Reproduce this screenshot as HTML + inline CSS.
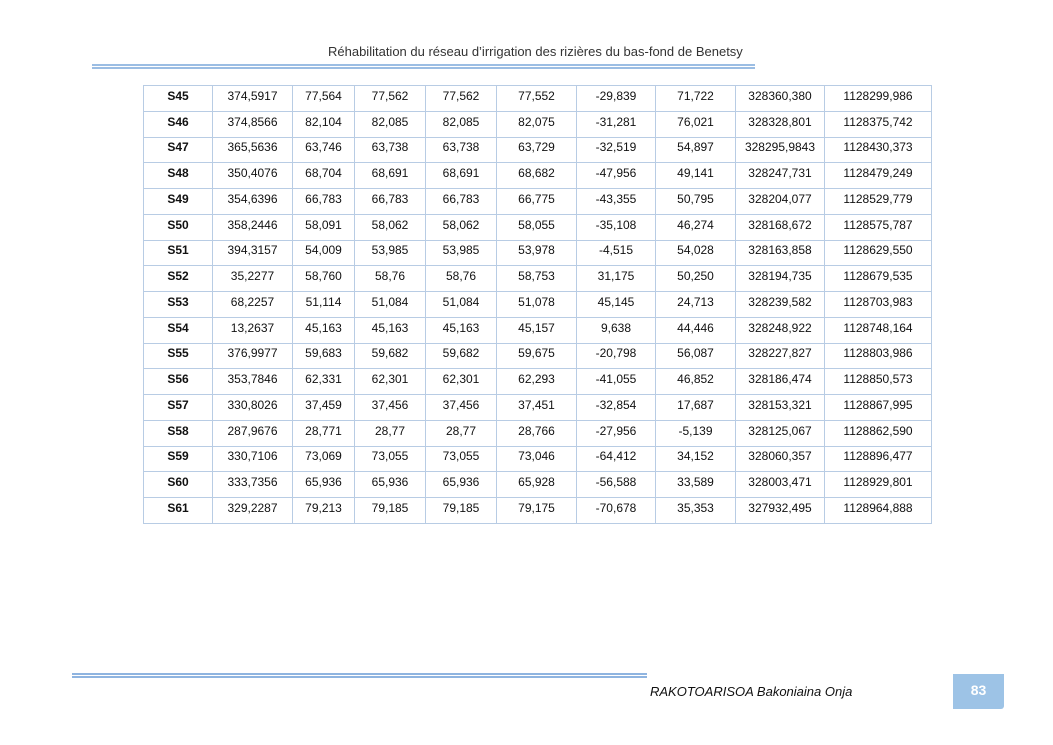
<!DOCTYPE html>
<html><head><meta charset="utf-8"><style>
body{margin:0;width:1053px;height:745px;background:#fff;position:relative;overflow:hidden;font-family:"Liberation Sans",sans-serif;}
.hd{position:absolute;top:44px;left:328px;white-space:nowrap;font-size:13px;color:#333;}
.l1{position:absolute;left:92px;top:64px;width:663px;height:2px;background:#9bbde3;}
.l2{position:absolute;left:92px;top:67px;width:663px;height:2px;background:#9bbde3}
table{position:absolute;left:143px;top:85px;border-collapse:collapse;font-size:12px;color:#111}
td{border:1px solid #b8cce4;height:25.76px;padding:0 0 5px 0;box-sizing:border-box;text-align:center;vertical-align:middle}
td:first-child{font-weight:bold}
.f1{position:absolute;left:72px;top:673px;width:575px;height:2px;background:#8fb4e0}
.f2{position:absolute;left:72px;top:676px;width:575px;height:2px;background:#8fb4e0}
.au{position:absolute;left:650px;top:684px;font-style:italic;font-size:13px;color:#111}
.pg{position:absolute;left:953px;top:674px;width:51px;height:35px;background:#9dc3e6;color:#fff;font-size:14px;font-weight:bold;text-align:center;line-height:32px;border-radius:0 0 3px 0}
</style></head><body>
<div class="hd">Réhabilitation du réseau d’irrigation des rizières du bas-fond de Benetsy</div>
<div class="l1"></div><div class="l2"></div>
<table>
<colgroup><col style="width:69px"><col style="width:80px"><col style="width:62px"><col style="width:71px"><col style="width:71px"><col style="width:80px"><col style="width:79px"><col style="width:80px"><col style="width:89px"><col style="width:107px"></colgroup>
<tr><td>S45</td><td>374,5917</td><td>77,564</td><td>77,562</td><td>77,562</td><td>77,552</td><td>-29,839</td><td>71,722</td><td>328360,380</td><td>1128299,986</td></tr>
<tr><td>S46</td><td>374,8566</td><td>82,104</td><td>82,085</td><td>82,085</td><td>82,075</td><td>-31,281</td><td>76,021</td><td>328328,801</td><td>1128375,742</td></tr>
<tr><td>S47</td><td>365,5636</td><td>63,746</td><td>63,738</td><td>63,738</td><td>63,729</td><td>-32,519</td><td>54,897</td><td>328295,9843</td><td>1128430,373</td></tr>
<tr><td>S48</td><td>350,4076</td><td>68,704</td><td>68,691</td><td>68,691</td><td>68,682</td><td>-47,956</td><td>49,141</td><td>328247,731</td><td>1128479,249</td></tr>
<tr><td>S49</td><td>354,6396</td><td>66,783</td><td>66,783</td><td>66,783</td><td>66,775</td><td>-43,355</td><td>50,795</td><td>328204,077</td><td>1128529,779</td></tr>
<tr><td>S50</td><td>358,2446</td><td>58,091</td><td>58,062</td><td>58,062</td><td>58,055</td><td>-35,108</td><td>46,274</td><td>328168,672</td><td>1128575,787</td></tr>
<tr><td>S51</td><td>394,3157</td><td>54,009</td><td>53,985</td><td>53,985</td><td>53,978</td><td>-4,515</td><td>54,028</td><td>328163,858</td><td>1128629,550</td></tr>
<tr><td>S52</td><td>35,2277</td><td>58,760</td><td>58,76</td><td>58,76</td><td>58,753</td><td>31,175</td><td>50,250</td><td>328194,735</td><td>1128679,535</td></tr>
<tr><td>S53</td><td>68,2257</td><td>51,114</td><td>51,084</td><td>51,084</td><td>51,078</td><td>45,145</td><td>24,713</td><td>328239,582</td><td>1128703,983</td></tr>
<tr><td>S54</td><td>13,2637</td><td>45,163</td><td>45,163</td><td>45,163</td><td>45,157</td><td>9,638</td><td>44,446</td><td>328248,922</td><td>1128748,164</td></tr>
<tr><td>S55</td><td>376,9977</td><td>59,683</td><td>59,682</td><td>59,682</td><td>59,675</td><td>-20,798</td><td>56,087</td><td>328227,827</td><td>1128803,986</td></tr>
<tr><td>S56</td><td>353,7846</td><td>62,331</td><td>62,301</td><td>62,301</td><td>62,293</td><td>-41,055</td><td>46,852</td><td>328186,474</td><td>1128850,573</td></tr>
<tr><td>S57</td><td>330,8026</td><td>37,459</td><td>37,456</td><td>37,456</td><td>37,451</td><td>-32,854</td><td>17,687</td><td>328153,321</td><td>1128867,995</td></tr>
<tr><td>S58</td><td>287,9676</td><td>28,771</td><td>28,77</td><td>28,77</td><td>28,766</td><td>-27,956</td><td>-5,139</td><td>328125,067</td><td>1128862,590</td></tr>
<tr><td>S59</td><td>330,7106</td><td>73,069</td><td>73,055</td><td>73,055</td><td>73,046</td><td>-64,412</td><td>34,152</td><td>328060,357</td><td>1128896,477</td></tr>
<tr><td>S60</td><td>333,7356</td><td>65,936</td><td>65,936</td><td>65,936</td><td>65,928</td><td>-56,588</td><td>33,589</td><td>328003,471</td><td>1128929,801</td></tr>
<tr><td>S61</td><td>329,2287</td><td>79,213</td><td>79,185</td><td>79,185</td><td>79,175</td><td>-70,678</td><td>35,353</td><td>327932,495</td><td>1128964,888</td></tr>
</table>
<div class="f1"></div><div class="f2"></div>
<div class="au">RAKOTOARISOA Bakoniaina Onja</div>
<div class="pg">83</div>
</body></html>
